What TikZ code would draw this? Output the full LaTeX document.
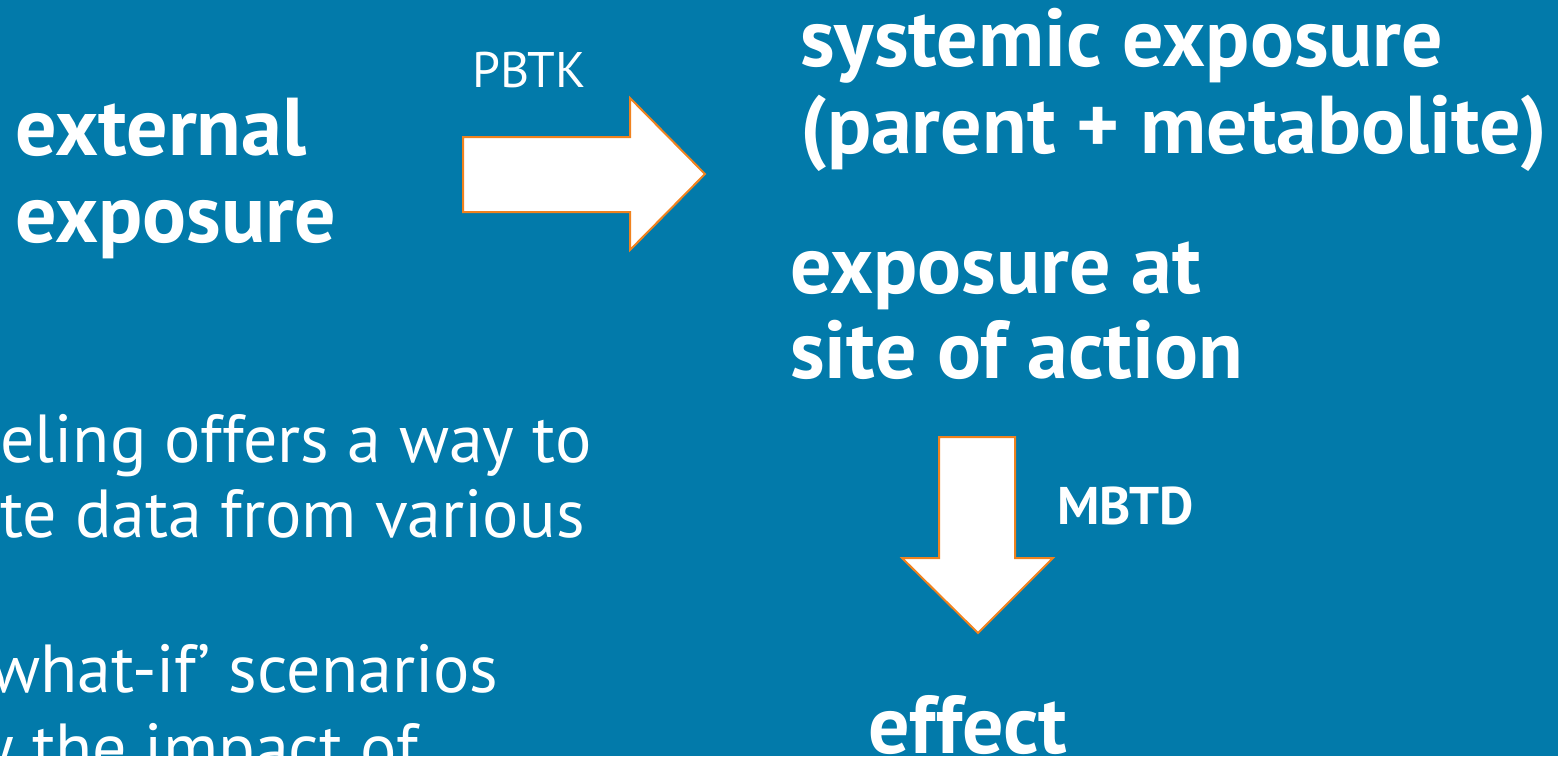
\documentclass[tikz,border=0pt]{standalone}
\usepackage{fontspec}
\setmainfont{PT Sans}
\definecolor{bgblue}{RGB}{2,122,170}
\definecolor{arroworange}{RGB}{240,130,30}
\begin{document}
\begin{tikzpicture}[x=1pt,y=-1pt,
  title/.style={anchor=base west,inner sep=0pt,text=white,font=\fontsize{82}{96}\selectfont\bfseries},
  body/.style={anchor=base west,inner sep=0pt,text=white,font=\fontsize{68}{80}\selectfont},
  blockarrow/.style={draw=arroworange,fill=white,line width=2pt,line join=miter}]
\useasboundingbox (0,0) rectangle (1558,756);
\fill[bgblue] (0,0) rectangle (1558,756);
\begin{scope}
\clip (0,0) rectangle (1558,756);
% left block
\node[title] (ext1) at (15,155) {external};
\node[title] (ext2) at (15,242) {exposure};
% PBTK label and arrow
\node[anchor=base west,inner sep=0pt,text=white,font=\fontsize{50}{60}\selectfont] (pbtk) at (472,87) {PBTK};
\draw[blockarrow] (463,137) -- (630,137) -- (630,98) -- (705,174) -- (630,250) -- (630,212) -- (463,212) -- cycle;
% right block
\node[title] (sys1) at (800,66) {systemic exposure};
\node[title] (sys2) at (800,153) {(parent + metabolite)};
\node[title] (site1) at (790,293) {exposure at};
\node[title] (site2) at (790,378) {site of action};
% MBTD arrow
\draw[blockarrow] (939,437) -- (1015,437) -- (1015,558) -- (1053,558) -- (978,633) -- (902,558) -- (939,558) -- cycle;
\node[anchor=base west,inner sep=0pt,text=white,font=\fontsize{53}{64}\selectfont\bfseries] (mbtd) at (1057,524) {MBTD};
\node[title] (eff) at (868,753) {effect};
% clipped paragraph
\node[body] (p1) at (0,462) {eling offers a way to};
\node[body] (p2) at (0,537) {te data from various};
\node[body] (p3) at (-10,692) {what-if’ scenarios};
\node[body] (p4) at (-18,771) {y the impact of};
\end{scope}
\end{tikzpicture}
\end{document}
